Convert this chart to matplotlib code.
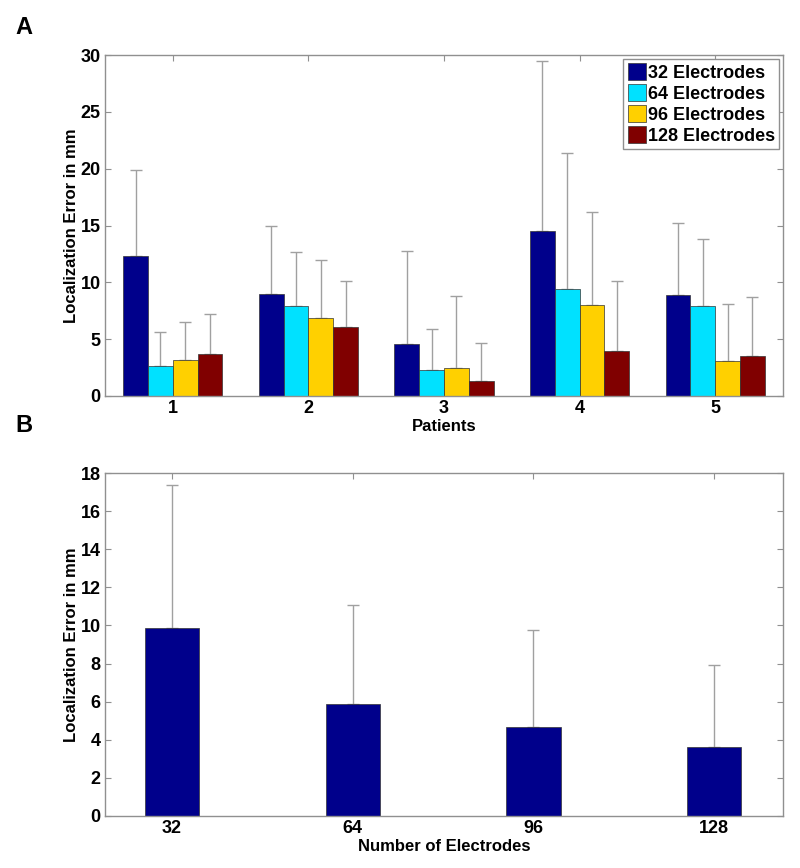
import numpy as np
import matplotlib
matplotlib.use('Agg')
import matplotlib.pyplot as plt

plt.rcParams['font.family'] = ['Liberation Sans', 'DejaVu Sans']
plt.rcParams['font.weight'] = 'bold'

# --- Datos panel A ---
pacientes = ['1', '2', '3', '4', '5']
series = ['32 Electrodes', '64 Electrodes', '96 Electrodes', '128 Electrodes']
colores = ['#00008B', '#00E1FF', '#FFD000', '#800000']
media_A = [
    [12.3, 9.0, 4.6, 14.5, 8.9],
    [2.6, 7.9, 2.3, 9.4, 7.9],
    [3.2, 6.9, 2.5, 8.0, 3.1],
    [3.7, 6.1, 1.3, 4.0, 3.5],
]
tope_A = [
    [19.9, 15.0, 12.8, 29.5, 15.2],
    [5.6, 12.7, 5.9, 21.4, 13.8],
    [6.5, 12.0, 8.8, 16.2, 8.1],
    [7.2, 10.1, 4.7, 10.1, 8.7],
]

# --- Datos panel B ---
electrodos = ['32', '64', '96', '128']
media_B = [9.85, 5.9, 4.65, 3.6]
tope_B = [17.35, 11.05, 9.75, 7.9]

gris = '#A0A0A0'

fig = plt.figure(figsize=(8, 8.68), dpi=100)
axA = fig.add_axes([105/800, 1 - 396/868, (783-105)/800, (396-55)/868])
axB = fig.add_axes([105/800, 1 - 816/868, (783-105)/800, (816-473)/868])

def estilo(ax):
    for s in ax.spines.values():
        s.set_color('#909090')
        s.set_linewidth(1.0)
    ax.tick_params(direction='in', top=True, right=True, length=4,
                   color='#909090', labelsize=13, pad=3)
    for lab in ax.get_xticklabels() + ax.get_yticklabels():
        lab.set_fontweight('bold')

# Panel A
x = np.arange(1, len(pacientes) + 1)
w = 0.183
for i in range(len(series)):
    xs = x + (i - 1.5) * w
    m = np.array(media_A[i])
    t = np.array(tope_A[i])
    axA.bar(xs, m, width=w, color=colores[i], edgecolor='#333333',
            linewidth=0.5, label=series[i], zorder=2)
    axA.errorbar(xs, m, yerr=[np.zeros_like(m), t - m], fmt='none',
                 ecolor=gris, elinewidth=1.0, capsize=4, capthick=1.0, zorder=1)
axA.set_xlim(0.5, 5.5)
axA.set_ylim(0, 30)
axA.set_xticks(x)
axA.set_xticklabels(pacientes)
axA.set_yticks(np.arange(0, 31, 5))
axA.set_xlabel('Patients', fontsize=12, fontweight='bold', labelpad=1)
axA.set_ylabel('Localization Error in mm', fontsize=12, fontweight='bold', labelpad=1)
estilo(axA)
leg = axA.legend(loc='upper right', prop={'weight': 'bold', 'size': 13},
                 handlelength=1.0, handleheight=1.1, handletextpad=0.1,
                 labelspacing=0.12, borderpad=0.25, borderaxespad=0.2,
                 fancybox=False, framealpha=1)
leg.get_frame().set_edgecolor('#909090')

# Panel B
xb = np.arange(1, len(electrodos) + 1)
mb = np.array(media_B)
tb = np.array(tope_B)
axB.bar(xb, mb, width=0.3, color='#00008B', edgecolor='#333333',
        linewidth=0.5, zorder=2)
axB.errorbar(xb, mb, yerr=[np.zeros_like(mb), tb - mb], fmt='none',
             ecolor=gris, elinewidth=1.0, capsize=4, capthick=1.0, zorder=1)
axB.set_xlim(0.63, 4.38)
axB.set_ylim(0, 18)
axB.set_xticks(xb)
axB.set_xticklabels(electrodos)
axB.set_yticks(np.arange(0, 19, 2))
axB.set_xlabel('Number of Electrodes', fontsize=12, fontweight='bold', labelpad=1)
axB.set_ylabel('Localization Error in mm', fontsize=12, fontweight='bold', labelpad=1)
estilo(axB)

fig.text(15/800, 1 - 28/868, 'A', fontsize=17, fontweight='bold', va='center')
fig.text(15/800, 1 - 425/868, 'B', fontsize=17, fontweight='bold', va='center')

fig.savefig('out.png', dpi=100, facecolor='white')
